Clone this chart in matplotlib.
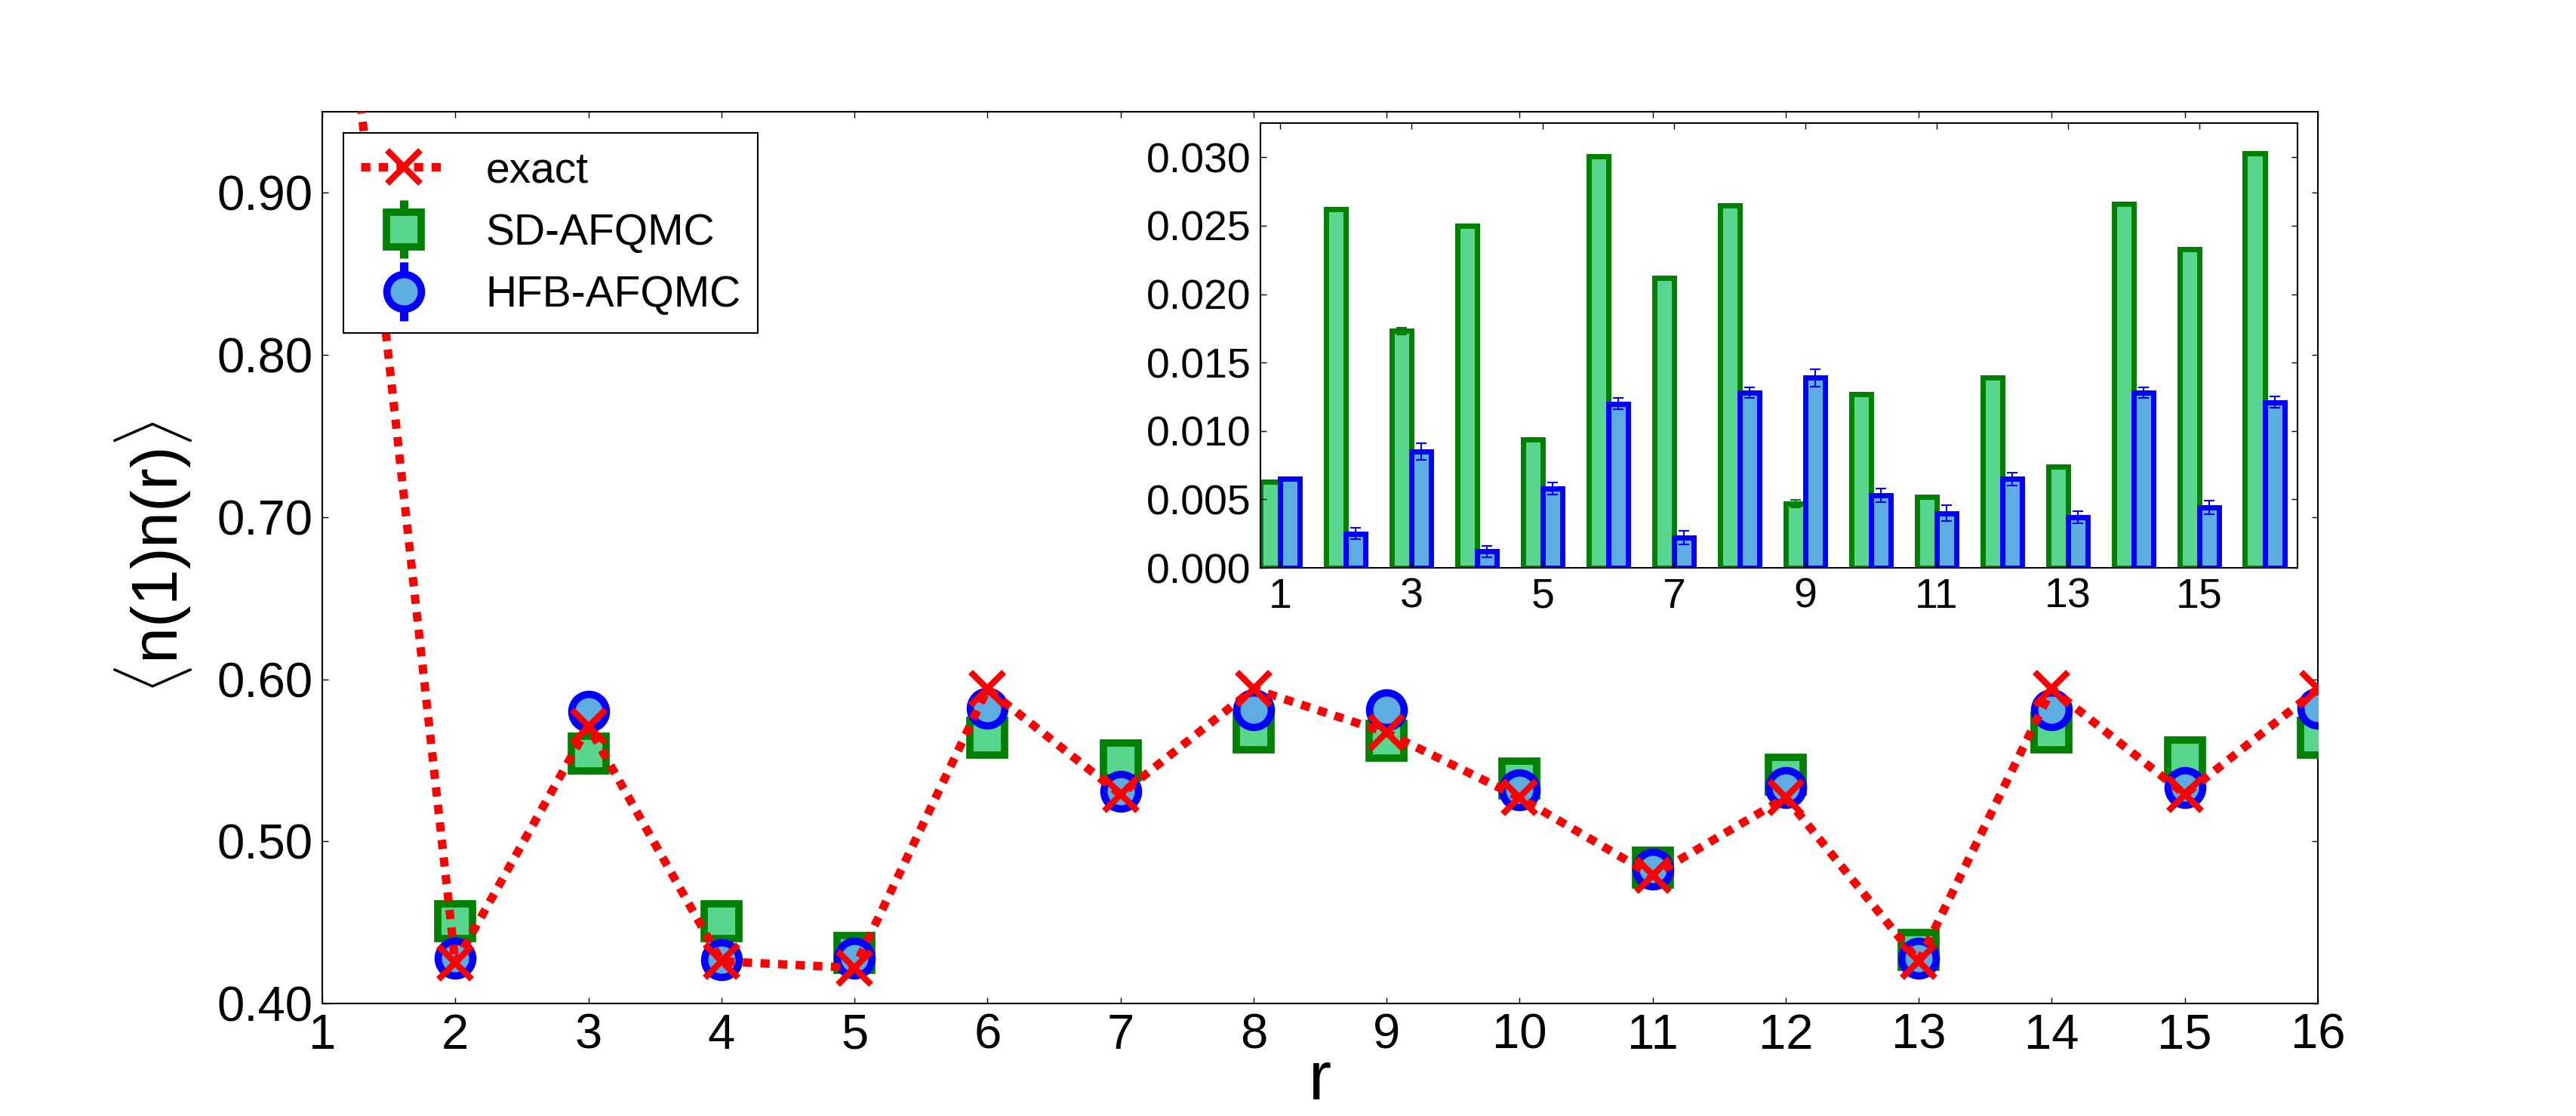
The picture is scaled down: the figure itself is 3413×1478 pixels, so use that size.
import numpy as np
import matplotlib
matplotlib.use("Agg")
import matplotlib.pyplot as plt
from matplotlib.container import ErrorbarContainer
from matplotlib.legend_handler import HandlerErrorbar

# ---------------- data ----------------
r = [1, 2, 3, 4, 5, 6, 7, 8, 9, 10, 11, 12, 13, 14, 15, 16]
exact = [1.170, 0.425, 0.571, 0.426, 0.422, 0.594, 0.529, 0.594, 0.567, 0.527, 0.479, 0.527, 0.426, 0.594, 0.529, 0.594]
sd_afqmc = [1.164, 0.451, 0.554, 0.451, 0.431, 0.564, 0.550, 0.567, 0.562, 0.539, 0.484, 0.541, 0.433, 0.567, 0.552, 0.564]
hfb_afqmc = [1.176, 0.428, 0.580, 0.427, 0.428, 0.582, 0.531, 0.581, 0.581, 0.532, 0.483, 0.533, 0.428, 0.581, 0.533, 0.582]

# inset: |QMC - exact|
sd_diff = [0.0063, 0.0262, 0.0173, 0.0250, 0.0094, 0.0301, 0.0212, 0.0265, 0.0047, 0.0127, 0.0052, 0.0139, 0.0074, 0.0266, 0.0233, 0.0303]
hfb_diff = [0.0065, 0.0025, 0.0085, 0.0012, 0.0058, 0.0120, 0.0022, 0.0128, 0.0139, 0.0053, 0.0040, 0.0065, 0.0037, 0.0128, 0.0044, 0.0121]
sd_err = [0.00005, 0.00008, 0.00025, 0.00008, 0.00008, 0.00008, 0.00008, 0.00008, 0.00027, 0.00008, 0.00010, 0.00008, 0.00008, 0.00008, 0.00008, 0.00008]
hfb_err = [0.00010, 0.00043, 0.00063, 0.00040, 0.00042, 0.00042, 0.00049, 0.00037, 0.00063, 0.00049, 0.00060, 0.00046, 0.00043, 0.00039, 0.00050, 0.00042]

main_xticks = list(range(1, 17))
main_yticks = [0.40, 0.50, 0.60, 0.70, 0.80, 0.90]
inset_xticks = [1, 3, 5, 7, 9, 11, 13, 15]
inset_yticks = [0.000, 0.005, 0.010, 0.015, 0.020, 0.025, 0.030]

# ---------------- style ----------------
plt.rcParams['font.family'] = ['Liberation Sans', 'DejaVu Sans']
plt.rcParams['mathtext.fontset'] = 'custom'
plt.rcParams['mathtext.rm'] = 'Liberation Sans'
plt.rcParams['mathtext.it'] = 'Liberation Sans:italic'
plt.rcParams['mathtext.sf'] = 'Liberation Sans'

GREEN_FILL = '#58D68D'
GREEN_EDGE = '#008000'
BLUE_FILL = '#5DADE2'
BLUE_EDGE = '#0000FF'

fig = plt.figure(figsize=(34.13, 14.78), dpi=100)
fig.patch.set_facecolor('white')

ax = fig.add_axes([0.1251, 0.1008, 0.7747, 0.7991])

x = np.array(r, dtype=float)

ax.errorbar(x, sd_afqmc, yerr=sd_err, fmt='s', ms=33, mfc=GREEN_FILL, mec=GREEN_EDGE,
            mew=7, ecolor=GREEN_EDGE, elinewidth=8, capsize=0, label='SD-AFQMC', zorder=3)
ax.errorbar(x, hfb_afqmc, yerr=hfb_err, fmt='o', ms=33, mfc=BLUE_FILL, mec=BLUE_EDGE,
            mew=7, ecolor=BLUE_EDGE, elinewidth=8, capsize=0, label='HFB-AFQMC', zorder=4)
ax.plot(x, exact, color='red', linestyle=(0, (1.1, 1.0)), lw=8, dash_capstyle='butt',
        marker='x', ms=32, mew=6, mec='red', label='exact', zorder=5)

ax.set_xlim(1, 16)
ax.set_ylim(0.40, 0.95)
ax.set_xticks(main_xticks)
ax.set_xticklabels([str(v) for v in main_xticks])
ax.set_yticks(main_yticks)
ax.set_yticklabels(['%.2f' % v for v in main_yticks])
ax.tick_params(axis='both', which='major', direction='in', length=6, width=1,
               top=True, right=True, labelsize=47, pad=9)
for s in ax.spines.values():
    s.set_linewidth(1.5)

ax.set_xlabel('r', fontsize=65, labelpad=-8)
ax.set_ylabel(r'$\langle \mathrm{n(1)n(r)} \rangle$', fontsize=62, labelpad=22)

handles, labels = ax.get_legend_handles_labels()
order = [labels.index('exact'), labels.index('SD-AFQMC'), labels.index('HFB-AFQMC')]
leg = ax.legend([handles[i] for i in order], [labels[i] for i in order],
                loc='upper left', fontsize=41, numpoints=1, borderpad=0.4,
                labelspacing=0.5, handlelength=2.0, handletextpad=0.9,
                borderaxespad=0.5, fancybox=False, framealpha=1, edgecolor='black',
                handler_map={ErrorbarContainer: HandlerErrorbar(xerr_size=0.5, yerr_size=0.68)})
leg.get_frame().set_linewidth(1.5)
leg.set_zorder(10)

# ---------------- inset ----------------
ax2 = fig.add_axes([0.4893, 0.4912, 0.4026, 0.3985])
w = 0.3
ax2.bar(x - w, sd_diff, width=w, align='edge', color=GREEN_FILL, edgecolor=GREEN_EDGE,
        linewidth=5, yerr=sd_err,
        error_kw=dict(ecolor=GREEN_EDGE, elinewidth=1.5, capsize=5, capthick=1.5))
ax2.bar(x, hfb_diff, width=w, align='edge', color=BLUE_FILL, edgecolor=BLUE_EDGE,
        linewidth=5, yerr=hfb_err,
        error_kw=dict(ecolor=BLUE_EDGE, elinewidth=1.5, capsize=5, capthick=1.5))
ax2.set_xlim(0.7, 16.5)
ax2.set_ylim(0, 0.0325)
ax2.set_xticks(inset_xticks)
ax2.set_xticklabels([str(v) for v in inset_xticks])
ax2.set_yticks(inset_yticks)
ax2.set_yticklabels(['%.3f' % v for v in inset_yticks])
ax2.tick_params(axis='both', which='major', direction='in', length=6, width=1,
                top=True, right=True, labelsize=40, pad=9)
for s in ax2.spines.values():
    s.set_linewidth(1.5)

fig.savefig('out.png', dpi=100, facecolor='white')
